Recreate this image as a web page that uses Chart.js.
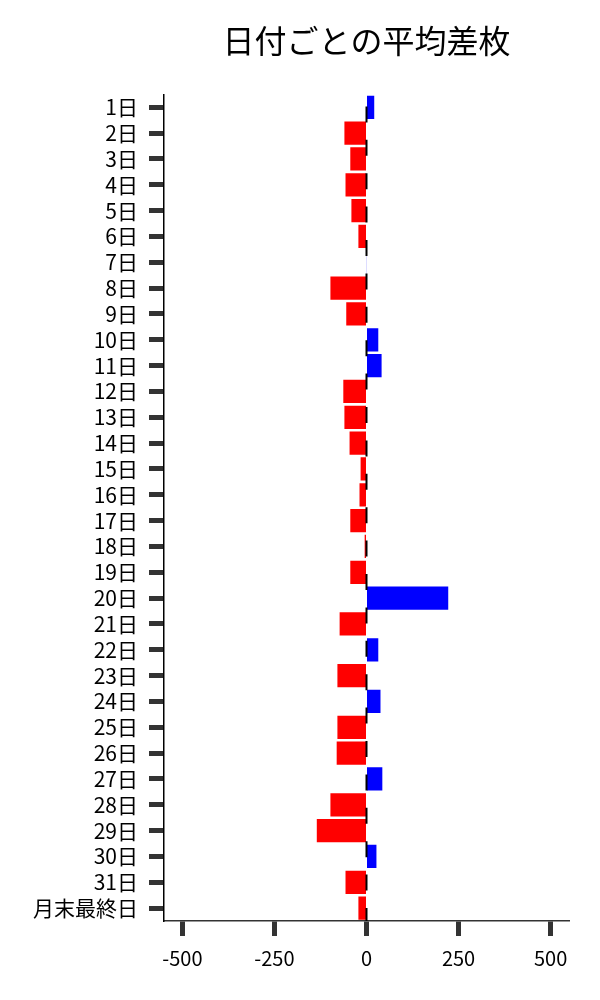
<!DOCTYPE html>
<html>
<head>
<meta charset="utf-8">
<script src="https://cdn.jsdelivr.net/npm/chart.js@4.4.0/dist/chart.umd.min.js"></script>
<style>
  html, body { margin: 0; padding: 0; background: #fff; }
</style>
</head>
<body>
<canvas id="avgChart" width="600" height="1000"></canvas>
<script>
const days = ['1日', '2日', '3日', '4日', '5日', '6日', '7日', '8日', '9日', '10日',
    '11日', '12日', '13日', '14日', '15日', '16日', '17日', '18日', '19日', '20日',
    '21日', '22日', '23日', '24日', '25日', '26日', '27日', '28日', '29日', '30日',
    '31日', '月末最終日'];
const avgDiff = [21, -60, -44, -57, -41, -22, 1, -98, -55, 32,
    41, -63, -60, -46, -16, -19, -44, -5, -44, 222,
    -73, 32, -79, 38, -79, -81, 43, -98, -135, 27,
    -57, -22];
const xTicks = [-500, -250, 0, 250, 500];

const font = "'Noto Sans CJK JP', 'Noto Sans', sans-serif";

// dashed zero line, drawn over the bars
const zeroLine = {
    id: 'zeroLine',
    afterDatasetsDraw(chart) {
        const x = chart.scales.x.getPixelForValue(0);
        const area = chart.chartArea;
        const ctx = chart.ctx;
        ctx.save();
        ctx.strokeStyle = '#000';
        ctx.lineWidth = 2;
        ctx.setLineDash([16, 17.4]);
        ctx.lineDashOffset = 21.4;
        ctx.beginPath();
        ctx.moveTo(x, area.top);
        ctx.lineTo(x, area.bottom);
        ctx.stroke();
        ctx.restore();
    }
};

const ctx = document.getElementById('avgChart').getContext('2d');
new Chart(ctx, {
    type: 'bar',
    data: {
        labels: days,
        datasets: [{
            data: avgDiff,
            backgroundColor: avgDiff.map(v => v < 0 ? '#ff0000' : '#0000ff'),
            borderWidth: 0,
            categoryPercentage: 1,
            barPercentage: 0.9
        }]
    },
    options: {
        indexAxis: 'y',
        responsive: false,
        animation: false,
        layout: { padding: { left: 0, right: 31, top: 10, bottom: 20 } },
        plugins: {
            legend: { display: false },
            tooltip: { enabled: false },
            title: {
                display: true,
                text: '日付ごとの平均差枚',
                fullSize: false,
                color: '#000',
                font: { family: font, size: 32, weight: 'normal' },
                padding: { top: 12, bottom: 34 }
            }
        },
        scales: {
            x: {
                min: -550,
                max: 550,
                afterBuildTicks: scale => {
                    scale.ticks = xTicks.map(v => ({ value: v }));
                },
                grid: {
                    drawOnChartArea: false,
                    tickLength: 15,
                    tickWidth: 5,
                    tickColor: '#333'
                },
                border: { color: '#333', width: 1.5 },
                ticks: {
                    color: '#000',
                    padding: 10,
                    maxRotation: 0,
                    font: { family: font, size: 20 }
                }
            },
            y: {
                afterFit: scale => { scale.width = 164; },
                grid: {
                    offset: false,
                    drawOnChartArea: false,
                    tickLength: 15,
                    tickWidth: 5,
                    tickColor: '#333'
                },
                border: { color: '#000', width: 1.5 },
                ticks: {
                    color: '#000',
                    padding: 11,
                    autoSkip: false,
                    font: { family: font, size: 21 }
                }
            }
        }
    },
    plugins: [zeroLine]
});
</script>
</body>
</html>
